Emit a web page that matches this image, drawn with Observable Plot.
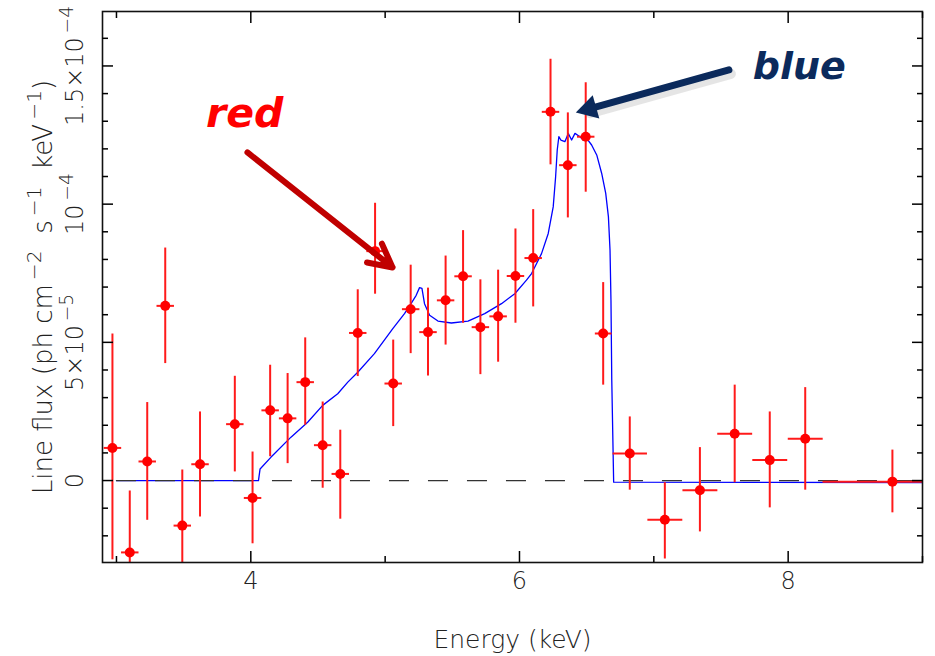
<!DOCTYPE html>
<html><head><meta charset="utf-8">
<script src="https://cdn.jsdelivr.net/npm/d3@7"></script>
<script src="https://cdn.jsdelivr.net/npm/@observablehq/plot@0.6"></script>
<style>body{margin:0;background:#fff}#chart{width:935px;height:656px}</style>
</head><body><div id="chart"></div>
<script>
// Flux values in units of 1e-5 ph cm^-2 s^-1 keV^-1
const energy = [2.970, 3.099, 3.229, 3.363, 3.490, 3.622, 3.881, 4.013, 4.144, 4.274, 4.405, 4.535, 4.666, 4.796, 4.925, 5.060, 5.190, 5.319, 5.450, 5.580, 5.709, 5.841, 5.970, 6.102, 6.231, 6.360, 6.493, 6.623, 6.821, 7.082, 7.343, 7.602, 7.863, 8.127, 8.776];
const flux   = [1.18, -2.60, 0.69, 6.32, -1.63, 0.59, 2.04, -0.63, 2.54, 2.25, 3.56, 1.28, 0.24, 5.34, 8.30, 3.51, 6.20, 5.37, 6.52, 7.39, 5.55, 5.94, 7.40, 8.05, 13.34, 11.41, 12.44, 5.32, 0.98, -1.42, -0.35, 1.69, 0.74, 1.51, -0.04];
const fluxLo = [-2.85, -4.84, -1.42, 4.25, -3.66, -1.30, 0.33, -2.27, 0.88, 0.63, 2.02, -0.26, -1.38, 3.78, 6.76, 1.97, 4.61, 3.80, 4.92, 5.71, 3.85, 4.30, 5.71, 6.30, 11.44, 9.52, 10.45, 3.47, -0.33, -2.82, -1.84, -0.06, -0.97, -0.33, -1.15];
const fluxHi = [5.32, -0.36, 2.84, 8.43, 0.40, 2.50, 3.79, 1.05, 4.19, 3.89, 5.18, 2.86, 1.84, 6.92, 10.05, 5.10, 7.81, 6.98, 8.14, 9.06, 7.28, 7.63, 9.12, 9.82, 15.26, 13.32, 14.41, 7.18, 2.32, -0.06, 1.21, 3.47, 2.50, 3.38, 1.12];
const binHalf = [0.065,0.065,0.065,0.065,0.065,0.065,0.065,0.065,0.065,0.065,0.065,0.065,0.065,0.065,0.065,0.065,0.065,0.065,0.065,0.065,0.065,0.065,0.065,0.065,0.065,0.065,0.065,0.062,0.128,0.13,0.13,0.13,0.13,0.13,0.52];

// Model (blue line)
const modelEnergy = [3.0, 4.057, 4.069, 4.149, 4.299, 4.423, 4.535, 4.647, 4.722, 4.796, 4.920, 5.057, 5.144, 5.194, 5.231, 5.256, 5.274, 5.293, 5.331, 5.393, 5.493, 5.617, 5.741, 5.866, 5.965, 6.052, 6.090, 6.164, 6.214, 6.251, 6.269, 6.281, 6.293, 6.308, 6.338, 6.363, 6.388, 6.413, 6.450, 6.475, 6.500, 6.537, 6.575, 6.612, 6.642, 6.662, 6.674, 6.681, 6.687, 6.701, 9.01];
const modelFlux   = [0, 0, 0.42, 0.84, 1.57, 2.11, 2.72, 3.14, 3.56, 3.92, 4.59, 5.50, 6.04, 6.41, 6.70, 6.98, 6.95, 6.40, 5.98, 5.77, 5.70, 5.77, 6.04, 6.40, 6.76, 7.25, 7.49, 8.21, 8.94, 9.90, 10.99, 11.96, 12.44, 12.32, 12.26, 12.56, 12.32, 12.56, 12.44, 12.32, 12.38, 12.14, 11.78, 11.11, 10.39, 9.54, 8.33, 6.52, 3.62, -0.06, -0.07];

const zeroLine = [{x1: 3.0, x2: 9.0, y: 0}];

const xMajor = [4, 6, 8];
const xMinor = [3, 5, 7, 9];
const yMajor = [0, 5, 10, 15];
const yTickLabels = ["0", "5×10⁻⁵", "10⁻⁴", "1.5×10⁻⁴"];
const yMinor = d3.range(-2, 17).filter(v => v % 5 !== 0);
const xTitle = "Energy (keV)";
const yTitle = "Line flux (ph cm⁻²  s⁻¹  keV⁻¹)";

// Annotations (data coordinates)
const redLabel  = [{x: 3.955, y: 13.26, text: "red"}];
const blueLabel = [{x: 8.083, y: 14.97, text: "blue"}];
const redArrow  = [{x1: 3.975, y1: 11.87, x2: 5.055, y2: 7.71}];
const blueArrow = [{x1: 7.559, y1: 14.86, x2: 6.425, y2: 13.32}];

const pts = energy.map((e, i) => ({e, f: flux[i], lo: fluxLo[i], hi: fluxHi[i], h: binHalf[i]}));
const model = modelEnergy.map((e, i) => ({e, f: modelFlux[i]}));

const font = "DejaVu Sans";
const txt = "#222";

const chart = Plot.plot({
  width: 935,
  height: 656,
  marginLeft: 102,
  marginRight: 13,
  marginTop: 11,
  marginBottom: 94,
  style: {fontFamily: font, background: "white"},
  x: {domain: [2.896, 9.0]},
  y: {domain: [-2.965, 16.97]},
  marks: [
    Plot.line(model, {x: "e", y: "f", stroke: "#0000ff", strokeWidth: 1.3, clip: true}),
    Plot.ruleY(zeroLine, {x1: "x1", x2: "x2", y: "y", stroke: "#333", strokeWidth: 1.2, strokeDasharray: "20,19"}),
    Plot.link(pts, {x1: "e", x2: "e", y1: "lo", y2: "hi", stroke: "#ff1a1a", strokeWidth: 2, clip: true}),
    Plot.link(pts, {x1: d => d.e - d.h, x2: d => d.e + d.h, y1: "f", y2: "f", stroke: "#ff1a1a", strokeWidth: 2, clip: true}),
    Plot.dot(pts, {x: "e", y: "f", r: 5, fill: "#ff0000", stroke: "none", clip: true}),
    // frame and inward ticks
    Plot.frame({stroke: "#111", strokeWidth: 1.6}),
    Plot.axisX(xMajor, {anchor: "bottom", tickSize: -11, tickFormat: () => "", label: null, strokeWidth: 1.5}),
    Plot.axisX(xMinor, {anchor: "bottom", tickSize: -6, tickFormat: () => "", label: null, strokeWidth: 1.5}),
    Plot.axisX(xMajor, {anchor: "top", tickSize: -11, tickFormat: () => "", label: null, strokeWidth: 1.5}),
    Plot.axisX(xMinor, {anchor: "top", tickSize: -6, tickFormat: () => "", label: null, strokeWidth: 1.5}),
    Plot.axisY(yMajor, {anchor: "left", tickSize: -11, tickFormat: () => "", label: null, strokeWidth: 1.5}),
    Plot.axisY(yMinor, {anchor: "left", tickSize: -6, tickFormat: () => "", label: null, strokeWidth: 1.5}),
    Plot.axisY(yMajor, {anchor: "right", tickSize: -11, tickFormat: () => "", label: null, strokeWidth: 1.5}),
    Plot.axisY(yMinor, {anchor: "right", tickSize: -6, tickFormat: () => "", label: null, strokeWidth: 1.5}),
    // tick labels and titles
    Plot.text(xMajor, {x: d => d, frameAnchor: "bottom", dy: 26, text: d => String(d), fontSize: 24, fill: txt, fontWeight: 300, textAnchor: "middle"}),
    Plot.text(yMajor, {y: d => d, frameAnchor: "left", dx: -27, rotate: -90, text: (d, i) => yTickLabels[i], fontSize: 24, fill: txt, fontWeight: 300, textAnchor: "middle"}),
    Plot.text([xTitle], {frameAnchor: "bottom", dy: 85, text: d => d, fontSize: 25, fill: txt, fontWeight: 300, textAnchor: "middle"}),
    Plot.text([yTitle], {frameAnchor: "left", dx: -59, rotate: -90, text: d => d, fontSize: 26, fill: txt, fontWeight: 300, textAnchor: "middle"}),
    // annotations
    Plot.arrow(redArrow, {x1: "x1", y1: "y1", x2: "x2", y2: "y2", stroke: "#c00000", strokeWidth: 6, headLength: 6.5, headAngle: 55}),
    Plot.arrow(blueArrow, {x1: "x1", y1: "y1", x2: "x2", y2: "y2", stroke: "#888", strokeOpacity: 0.22, strokeWidth: 10, headLength: 0, insetEnd: 12, dx: 2, dy: 4}),
    Plot.arrow(blueArrow, {x1: "x1", y1: "y1", x2: "x2", y2: "y2", stroke: "#0b2a5c", strokeWidth: 7, headLength: 0, insetEnd: 12}),
    Plot.dot(blueArrow, {x: "x2", y: "y2", symbol: "triangle", r: 9, rotate: -105.8, dx: 12.7, dy: -3.6, fill: "#0b2a5c", stroke: "none"}),
    Plot.text(redLabel, {x: "x", y: "y", text: "text", fill: "#ff0000", fontSize: 41, fontWeight: "bold", fontStyle: "italic", fontFamily: "DejaVu Sans"}),
    Plot.text(blueLabel, {x: "x", y: "y", text: "text", fill: "#0b2a5c", fontSize: 38, fontWeight: "bold", fontStyle: "italic", fontFamily: "DejaVu Sans"})
  ]
});

// Render Unicode superscripts as raised tspans (keeps real text)
const supMap = {"⁻": "−", "⁰": "0", "¹": "1", "²": "2", "³": "3", "⁴": "4", "⁵": "5", "⁶": "6", "⁷": "7", "⁸": "8", "⁹": "9"};
chart.querySelectorAll("text").forEach(t => {
  const s = t.textContent;
  if (![...s].some(c => supMap[c])) return;
  const fs = parseFloat(t.closest("[font-size]")?.getAttribute("font-size")) || 24;
  const shift = fs * 0.42;
  const runs = [];
  for (const c of s) {
    const sup = !!supMap[c];
    const ch = sup ? supMap[c] : c;
    if (runs.length && runs[runs.length - 1].sup === sup) runs[runs.length - 1].s += ch;
    else runs.push({sup, s: ch});
  }
  while (t.firstChild) t.removeChild(t.firstChild);
  let raised = false;
  for (const r of runs) {
    const ts = document.createElementNS("http://www.w3.org/2000/svg", "tspan");
    ts.textContent = r.sup ? "\u2009" + r.s : r.s;
    if (r.sup) { ts.setAttribute("font-size", fs * 0.78); ts.setAttribute("dy", -shift); raised = true; }
    else if (raised) { ts.setAttribute("dy", shift); raised = false; }
    t.appendChild(ts);
  }
});
document.getElementById("chart").appendChild(chart);
</script></body></html>
